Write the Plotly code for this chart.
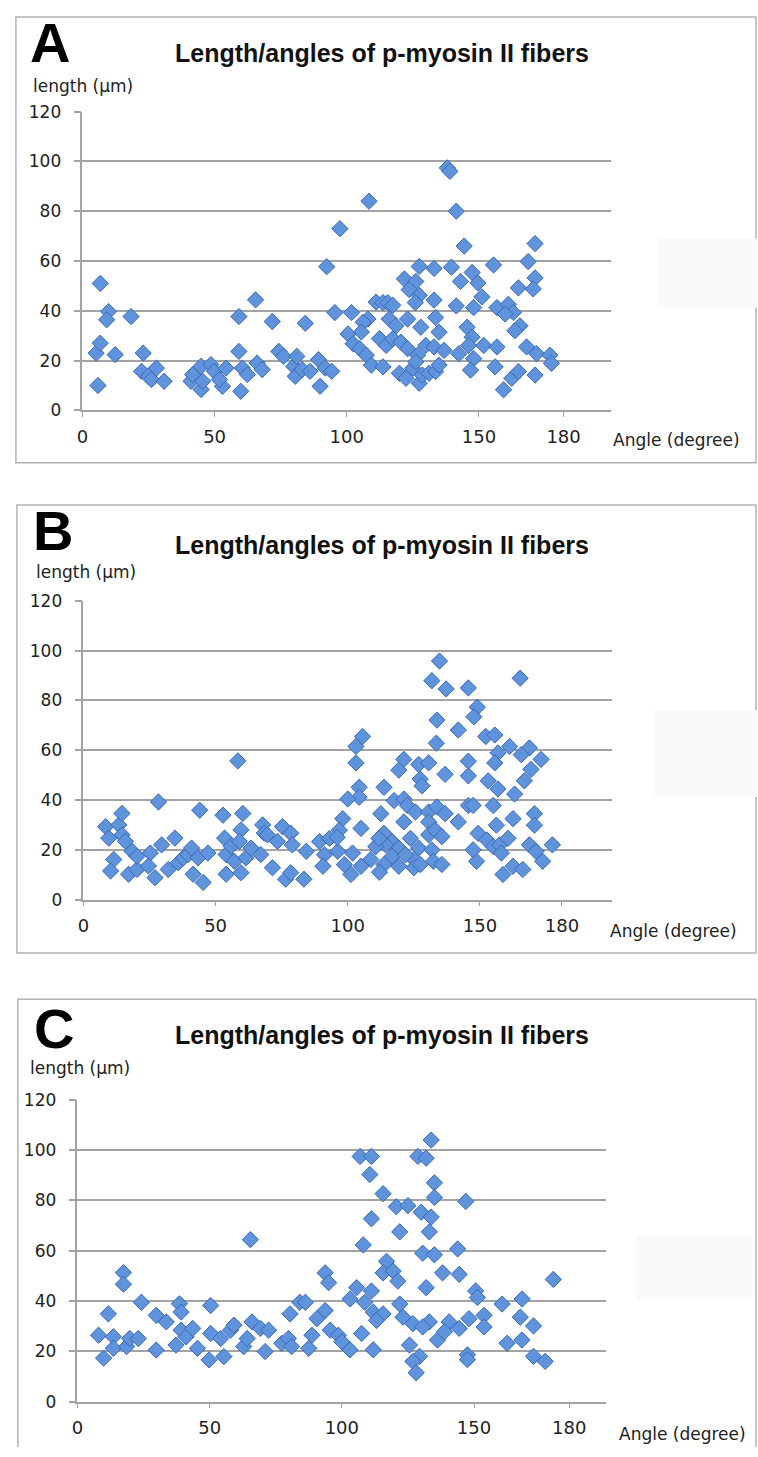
import plotly.graph_objects as go

W, H = 758, 1457

# ---------------- data ----------------
A_angle = [6.75, 5.2, 6.75, 5.9, 9.9, 9.2, 12.4, 18.4, 23, 22.4, 24.9, 28, 26.1, 30.9,
           41.1, 41.7, 44.9, 44.9, 45.5, 48.6, 49.9, 53, 51.8, 54.3, 59.2, 59.2, 59.9, 60.5,
           62.4, 65.5, 66.1, 68, 71.8, 74.3, 76.1, 79.9, 81.1, 80.5, 84.3, 83.1, 86.1, 89.3,
           89.9, 91.8, 94.3, 92.4,
           138, 139, 108.4, 97.4, 141.4, 144.4, 171.2, 95.5, 101.8, 127.4, 133, 139.6, 155.5,
           168.6, 121.8, 126.1, 147.4, 143, 149.6, 171.2, 164.9, 170.5, 151.1, 123.6, 127.4,
           133, 111.1, 113.7, 115.5, 117.4, 125.9, 141.4, 148, 156.8, 161.1, 163, 159.9, 165.5,
           163.6, 108, 106.2, 100.5, 102.4, 104.9, 107.4, 109.3, 113.7, 116.1, 118.6, 123, 128,
           133.6, 134.9, 112.4, 114.9, 117.4, 120.5, 123, 129.9, 126.8, 133, 136.8, 142.4, 145.5,
           147.4, 146.1, 151.8, 156.8, 148, 168, 171.8, 176.8, 177.4, 119.9, 122.4, 124.9, 127.4,
           128.6, 131.1, 133.6, 134.9, 126.1, 146.8, 156.1, 159.3, 162.4, 164.9, 171.2, 105.5]
A_length = [51, 23, 27, 10, 39.7, 36.4, 22.4, 37.7, 23, 15.7, 13.7, 17, 12.4, 11.7,
            11.7, 14.4, 17.7, 8.4, 11.7, 18.4, 15.7, 9.7, 12.4, 17, 37.7, 23.7, 7.7, 17,
            14.4, 44.4, 19, 16.4, 35.7, 23.7, 21.7, 17.7, 21.7, 13.7, 35, 16.4, 15.7, 20.4,
            9.7, 17, 15.7, 57.7,
            97.4, 96, 84, 73, 80, 66, 67, 39.3, 39.3, 57.8, 57, 57.5, 58.4,
            59.8, 52.8, 51.8, 55.4, 51.8, 51.2, 53.2, 49.2, 48.8, 45.6, 48.5, 46.2,
            44.3, 43.5, 43.3, 43.3, 42.2, 43.3, 42, 41.3, 41.3, 42.6, 39.3, 38.7, 34,
            32, 36.7, 35.4, 30.7, 26.8, 24.8, 22.2, 18.2, 17.5, 36.7, 34, 36.7, 33.4,
            37.3, 31.4, 28.8, 26.1, 28.8, 27.4, 24.8, 26.1, 22.2, 25.5, 24.1, 22.8, 33.4,
            29.4, 26.1, 26.1, 25.5, 20.8, 25.5, 22.8, 22.2, 18.9, 14.9, 12.9, 16.9, 10.9,
            14.2, 14.9, 15.6, 18.2, 19.5, 16.2, 17.5, 8.3, 12.9, 15.6, 14.2, 31.5]

B_angle = [8.4, 9.6, 11.5, 10.3, 13.4, 14.6, 14.6, 15.9, 17.1, 18.4, 20.3, 20.3, 25.3, 24.6,
           27.1, 28.4, 29.6, 32.1, 34.6, 35.9, 37.8, 39.6, 40.9, 41.5, 43.4, 44, 45.3, 47.1,
           52.8, 53.4, 54, 54, 55.9, 57.1, 58.4, 60.3, 59.6, 59, 59.6, 61.5, 63.4, 67.8, 68.4,
           69.6, 67.1, 71.5, 73.4, 75.3, 78.4, 76.5, 78.4, 79, 83.4,
           134.7, 131.8, 137.2, 145.6, 165.2, 149, 147.7, 133.7, 141.8, 133.5, 152.2, 155.6,
           161.2, 168.7, 165.6, 173.1, 156.8, 155.6, 145.6, 105.6, 103.1, 103.1, 121.2, 119.3,
           126.8, 130.6, 136.8, 127.4, 128.1, 145.6, 153.1, 156.8, 163.1, 166.8, 169.3, 104.3,
           104.3, 100, 113.7, 117.5, 121.2, 122.5, 125.6, 112.5, 98.1, 96.8, 105, 130.6, 133.7,
           136.8, 145.6, 147.4, 155, 162.5, 170.6, 170.6, 156.2, 141.8, 130.6, 121.2, 113.7,
           116.8, 119.3, 123.7, 126.8, 130.6, 133.1, 135.6, 131.8, 125, 125, 116.8, 113.7, 114.3,
           132.4, 135.6, 148.7, 147.4, 149.3, 152.5, 155, 157.4, 158.1, 160.6, 158.7, 162.5,
           166.2, 168.7, 171.2, 173.7, 177.4, 84.3, 89.3, 91.2, 90.6, 93.1, 96.2, 98.7, 101.8,
           101.2, 105, 108.7, 110.6, 111.8, 119.3, 121.8, 127.4, 96, 112]
B_length = [29.3, 24.7, 16.1, 11.5, 30, 34.6, 26, 23.4, 10.2, 19.4, 12.1, 17.4, 18.7, 13.5,
            8.8, 39.2, 22, 12.1, 24.7, 14.8, 16.8, 18.1, 20.7, 10.2, 16.8, 35.9, 6.9, 18.7,
            33.9, 24.7, 18.1, 10.2, 21.4, 15.4, 55.7, 34.6, 28, 23.4, 10.8, 16.8, 20.7, 30, 26.7,
            26, 18.1, 12.8, 23.4, 29.3, 26.7, 8.2, 10.8, 22, 8.2,
            95.8, 87.9, 84.6, 85, 88.9, 77.3, 73.4, 72.1, 68.1, 62.8, 65.5, 66.1,
            61.5, 60.9, 58.2, 56.3, 58.9, 54.9, 55.6, 65.5, 61.5, 54.9, 56.3, 52,
            54.3, 54.9, 50.3, 48.4, 45.7, 49.7, 47.7, 44.4, 42.4, 47.7, 52.3, 45.1,
            41.1, 40.4, 45.1, 39.8, 40.4, 37.8, 35.2, 34.5, 32.5, 27.9, 28.6, 35.2, 37.2,
            34.5, 37.8, 37.8, 37.8, 32.5, 34.5, 29.9, 29.9, 31.2, 31.2, 31.2, 26.6,
            23.3, 20.7, 24.6, 20.7, 26, 27.9, 25.3, 20, 16.1, 12.8, 17.4, 14.1, 22,
            15.4, 14.1, 15.4, 20, 26.6, 24, 21.3, 22, 18.7, 24.6, 10.1, 13.4,
            12.1, 22, 19.4, 15.4, 22, 19.4, 23.3, 18, 13.4, 24.6, 19.4, 14.1, 18.7,
            10.1, 13.4, 16.1, 21.3, 24.6, 13.4, 18, 14.1, 25, 11]

C_angle = [8, 9.9, 11.7, 13.6, 13.6, 17.4, 17.4, 18.6, 19.8, 23, 24.2, 29.8, 29.8, 33.6,
           37.3, 38.6, 39.2, 39.2, 41.1, 43.6, 45.4, 49.8, 50.4, 50.4, 54.2, 55.4, 57.9, 59.2,
           62.9, 64.2, 65.4, 66, 69.2, 71, 72.3, 77.3, 79.8, 80.4, 81, 84.1,
           133.8, 106.9, 111.2, 128.8, 131.9, 110.6, 135, 115.6, 135, 146.9, 120.6, 125, 130,
           133.8, 111.2, 121.9, 133.1, 108.1, 130.6, 135, 143.8, 116.9, 115.6, 119.4, 121.2,
           138.1, 144.4, 131.9, 180, 93.7, 95, 150.6, 151.3, 160.6, 168.2, 86.2, 105.6, 111.2,
           103.1, 108.7, 111.9, 121.9, 93.7, 90.6, 123.1, 126.9, 115.6, 113.1, 133.1, 130.6,
           140.6, 144.4, 148.1, 153.8, 153.8, 167.5, 172.5, 88.7, 95.6, 98.7, 87.5, 100, 103.1,
           107.5, 111.9, 125.6, 129.4, 126.9, 128.1, 136.2, 138.8, 147.5, 147.5, 162.5, 168.1,
           172.5, 176.9]
C_length = [26.4, 17.3, 34.9, 25.8, 21.2, 51.3, 46.7, 21.9, 25.1, 25.1, 39.5, 20.5, 34.3, 31.7,
            22.5, 38.9, 35.6, 28.4, 25.8, 29.1, 21.2, 16.6, 38.2, 27.1, 25.1, 17.9, 28.4, 30.4,
            21.9, 25.1, 64.4, 31.7, 29.1, 19.9, 28.4, 23.2, 25.1, 34.9, 21.9, 39.5,
            104, 97.5, 97.5, 97.5, 96.8, 90.3, 87, 82.7, 81.2, 79.6, 77.5, 77.9, 75.3,
            73.4, 72.7, 67.5, 67.5, 62.3, 59, 58.4, 60.7, 55.8, 51.2, 51.9, 47.9,
            51.2, 50.6, 45.3, 48.6, 51.2, 47.3, 44, 41.4, 38.8, 40.8, 39.5, 45.3, 44,
            40.8, 39.5, 35.6, 38.8, 36.2, 33, 33.6, 31, 34.9, 32.3, 31.7, 29.7,
            31.7, 29.1, 33, 34.3, 29.7, 33.6, 30.1, 26.4, 28.4, 26.4, 21.2, 23.8, 20.6,
            27.1, 20.6, 22.5, 18, 16, 11.5, 24.5, 27.8, 18.6, 16.7, 23.2, 24.5,
            18, 16]

panels = ["A", "B", "C"]
title_text = "Length/angles of p-myosin II fibers"
ylabel_text = "length (\u03bcm)"
xlabel_text = "Angle (degree)"
y_ticks = [0, 20, 40, 60, 80, 100, 120]
x_tick_labels = ["0", "50", "100", "150", "180"]
x_tick_vals = {"A": [0, 50, 100, 150, 182], "B": [0, 50, 100, 150, 181], "C": [0, 50, 100, 150, 186]}
data = {"A": (A_angle, A_length), "B": (B_angle, B_length), "C": (C_angle, C_length)}

# ---------------- layout geometry (pixels) ----------------
def px(x):
    return x / W

def py(y):
    return 1 - y / H

geom = {
    # box = (left, top, right, bottom, closed?)
    "A": dict(l=77, r=610, t=103, b=406, box=(10, 7, 756, 459, True),
              letter=(22, 33), title=(378.5, 44), ylab=(25, 77), xlab=(610, 436),
              ghost=(657, 232, 757, 302)),
    "B": dict(l=78, r=611, t=599, b=902, box=(11, 502, 756, 956, True),
              letter=(25, 528), title=(378.5, 542), ylab=(28, 570), xlab=(607, 934),
              ghost=(653, 710, 757, 798)),
    "C": dict(l=72, r=605, t=1105, b=1411, box=(12, 1003, 756, 1457, False),
              letter=(26, 1033), title=(379, 1039), ylab=(22, 1073), xlab=(616, 1444),
              ghost=(635, 1243, 753, 1307)),
}

GRID = "#a3a3a3"
BOX = "#b3b3b3"
TXT = "#222222"
REG = "DejaVu Sans"
BOLD = "Liberation Sans"

fig = go.Figure()
shapes = []
annotations = []
layout_axes = {}

for i, p in enumerate(panels):
    g = geom[p]
    n = "" if i == 0 else str(i + 1)
    xs, ys = data[p]
    fig.add_trace(go.Scatter(
        x=xs, y=ys, mode="markers", xaxis="x" + n, yaxis="y" + n,
        marker=dict(symbol="diamond", size=12.5, color="#5f93dc",
                    line=dict(color="#3a69b4", width=1)),
        cliponaxis=False, showlegend=False, hoverinfo="x+y"))
    layout_axes["xaxis" + n] = dict(
        domain=[px(g["l"]), px(g["r"])], range=[0, 200], anchor="y" + n,
        tickmode="array", tickvals=x_tick_vals[p], ticktext=x_tick_labels,
        showgrid=False, zeroline=False, showline=True, linecolor=GRID, linewidth=1.5,
        ticks="outside", ticklen=5, tickwidth=1.2, tickcolor=GRID,
        tickfont=dict(family=REG, size=18, color=TXT), ticklabelstandoff=4,
        fixedrange=True)
    layout_axes["yaxis" + n] = dict(
        domain=[py(g["b"]), py(g["t"])], range=[0, 120], anchor="x" + n,
        tickmode="array", tickvals=y_ticks,
        showgrid=True, gridcolor=GRID, gridwidth=1.5, zeroline=False,
        showline=True, linecolor=GRID, linewidth=1.5,
        ticks="outside", ticklen=7, tickwidth=1.5, tickcolor=GRID,
        tickfont=dict(family=REG, size=17, color=TXT), ticklabelstandoff=9,
        fixedrange=True)
    x0, y0, x1, y1, closed = g["box"]
    path = "M %f,%f L %f,%f L %f,%f L %f,%f" % (px(x0), py(y1), px(x0), py(y0),
                                               px(x1), py(y0), px(x1), py(y1))
    if closed:
        path += " Z"
    shapes.append(dict(type="path", xref="paper", yref="paper", path=path,
                       line=dict(color=BOX, width=1.5), layer="below"))
    gx0, gy0, gx1, gy1 = g["ghost"]
    shapes.append(dict(type="rect", xref="paper", yref="paper",
                       x0=px(gx0), x1=px(gx1), y0=py(gy1), y1=py(gy0),
                       line=dict(width=0), fillcolor="#fafafa", layer="below"))
    lx, ly = g["letter"]
    annotations.append(dict(text="<b>%s</b>" % p, x=px(lx), y=py(ly), xref="paper", yref="paper",
                            xanchor="left", yanchor="middle", showarrow=False,
                            font=dict(family=BOLD, size=56, color="#000000")))
    tx, ty = g["title"]
    annotations.append(dict(text="<b>%s</b>" % title_text, x=px(tx), y=py(ty), xref="paper",
                            yref="paper", xanchor="center", yanchor="middle", showarrow=False,
                            font=dict(family=BOLD, size=25, color="#111111")))
    yx, yy = g["ylab"]
    annotations.append(dict(text=ylabel_text, x=px(yx), y=py(yy), xref="paper", yref="paper",
                            xanchor="left", yanchor="middle", showarrow=False,
                            font=dict(family=REG, size=17, color=TXT)))
    ax, ay = g["xlab"]
    annotations.append(dict(text=xlabel_text, x=px(ax), y=py(ay), xref="paper", yref="paper",
                            xanchor="left", yanchor="middle", showarrow=False,
                            font=dict(family=REG, size=17, color=TXT)))

fig.update_layout(
    width=W, height=H, margin=dict(l=0, r=0, t=0, b=0),
    paper_bgcolor="white", plot_bgcolor="white",
    shapes=shapes, annotations=annotations, showlegend=False,
    **layout_axes)

# Pin the page to exactly the figure size: no body margin and nothing overflowing the
# figure's box (runs synchronously right after newPlot is called).
page_fix = (
    "}); (function(){"
    "var gd=document.getElementById('{plot_id}');"
    "var els=[document.documentElement, document.body, gd.parentElement, gd];"
    "for (var k=0;k<els.length;k++){var s=els[k].style;"
    "s.margin='0px';s.padding='0px';s.width='758px';s.height='1457px';"
    "s.overflow='hidden';if(k>=2){s.position='relative';}}"
    "})(); (function(){")

fig.write_html("out.html", config={"displayModeBar": False}, post_script=page_fix)
